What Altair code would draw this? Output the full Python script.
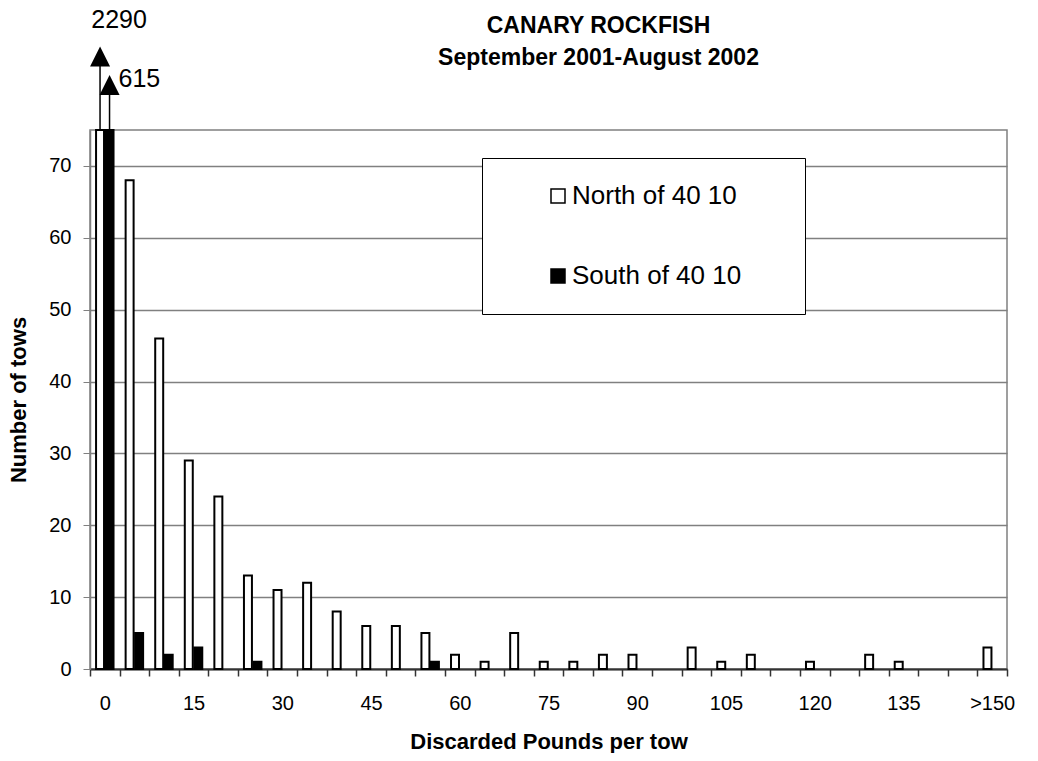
import altair as alt
import pandas as pd

# ---- data ----
bins = [str(v) for v in range(0, 150, 5)] + [">150"]
north = [2290, 68, 46, 29, 24, 13, 11, 12, 8, 6, 6, 5, 2, 1, 5, 1, 1, 2, 2, 0,
         3, 1, 2, 0, 1, 0, 2, 1, 0, 0, 3]
south = [615, 5, 2, 3, 0, 1, 0, 0, 0, 0, 0, 1, 0, 0, 0, 0, 0, 0, 0, 0,
         0, 0, 0, 0, 0, 0, 0, 0, 0, 0, 0]
series_names = ["North of 40 10", "South of 40 10"]
series_fill = ["white", "black"]
y_max = 75
y_ticks = [0, 10, 20, 30, 40, 50, 60, 70]
title_lines = ["CANARY ROCKFISH", "September 2001-August 2002"]
x_title = "Discarded Pounds per tow"
y_title = "Number of tows"

rows = []
for b, n, s in zip(bins, north, south):
    rows.append({"bin": b, "series": series_names[0], "count": n})
    rows.append({"bin": b, "series": series_names[1], "count": s})
df = pd.DataFrame(rows)

FONT = "Liberation Sans"
BLANK = "\u2800"  # blank glyph (not trimmed) used to widen the legend box

x_enc = alt.X(
    "bin:N", sort=bins,
    scale=alt.Scale(domain=bins, paddingInner=0, paddingOuter=0),
    axis=alt.Axis(
        title=x_title, labelAngle=0, tickBand="extent",
        labelExpr="datum.value == '>150' || toNumber(datum.value) % 15 == 0 ? datum.value : ''",
        labelFontSize=20, labelPadding=17, tickSize=7, tickWidth=1.5,
        tickColor="#333333", domainColor="#333333", domainWidth=2,
        titleFontSize=22, titleFontWeight="bold", titlePadding=18, grid=False,
    ),
)
x_off = alt.XOffset(
    "series:N", sort=series_names,
    scale=alt.Scale(domain=series_names, paddingInner=0.16, paddingOuter=0.637),
)

base = alt.Chart(df).transform_filter("datum.count > 0").transform_calculate(
    shown=f"min(datum.count, {y_max})"
)

bars = base.mark_bar(stroke="black", strokeWidth=2).encode(
    x=x_enc,
    xOffset=x_off,
    y=alt.Y(
        "shown:Q",
        scale=alt.Scale(domain=[0, y_max], nice=False, zero=True),
        axis=alt.Axis(
            title=y_title, values=y_ticks, grid=True, gridColor="#808080",
            gridWidth=1.5, labelFontSize=20, labelPadding=12, tickSize=7,
            tickColor="#808080", domainColor="#808080", domainWidth=1.5,
            titleFontSize=22, titleFontWeight="bold", titlePadding=18,
        ),
    ),
    color=alt.Color(
        "series:N",
        scale=alt.Scale(domain=series_names, range=series_fill),
        legend=alt.Legend(
            title=None, orient="none", legendX=392, legendY=28,
            fillColor="white", strokeColor="black", padding=25,
            symbolType="square", symbolSize=196, symbolStrokeColor="black",
            symbolStrokeWidth=1.5, symbolOffset=38, labelOffset=1,
            labelFontSize=26, labelLimit=600, rowPadding=54,
            labelExpr="datum.label + '" + BLANK * 2 + "'",
        ),
    ),
)

over = base.transform_filter(f"datum.count > {y_max}")
over_n = over.transform_filter(alt.datum.series == series_names[0])
over_s = over.transform_filter(alt.datum.series == series_names[1])

arrow_n = over_n.mark_rule(color="black", strokeWidth=1.5).encode(
    x=x_enc, xOffset=x_off, y=alt.value(0), y2=alt.value(-66)
)
head_n = over_n.mark_point(
    shape="M0,-1L1,1L-1,1Z", filled=True, color="black", size=400, opacity=1
).encode(x=x_enc, xOffset=x_off, y=alt.value(-73.5))
label_n = over_n.mark_text(
    fontSize=25, align="center", baseline="alphabetic", dx=19, color="black"
).encode(x=x_enc, xOffset=x_off, y=alt.value(-102), text="count:Q")

arrow_s = over_s.mark_rule(color="black", strokeWidth=1.5).encode(
    x=x_enc, xOffset=x_off, y=alt.value(0), y2=alt.value(-37)
)
head_s = over_s.mark_point(
    shape="M0,-1L1,1L-1,1Z", filled=True, color="black", size=400, opacity=1
).encode(x=x_enc, xOffset=x_off, y=alt.value(-45))
label_s = over_s.mark_text(
    fontSize=25, align="left", baseline="alphabetic", dx=9, color="black"
).encode(x=x_enc, xOffset=x_off, y=alt.value(-43), text="count:Q")

chart = alt.layer(
    bars, arrow_n, head_n, label_n, arrow_s, head_s, label_s
).properties(
    width=917, height=539,
    autosize=alt.AutoSizeParams(type="none"),
    padding={"left": 82, "top": 122, "right": 23, "bottom": 84},
    title=alt.TitleParams(
        text=title_lines, fontSize=23, fontWeight="bold", font=FONT,
        anchor="middle", dx=50, dy=66, lineHeight=32, color="black",
    ),
).configure_view(
    stroke="#808080", strokeWidth=1.5
).configure_axis(
    labelFont=FONT, titleFont=FONT, labelColor="black", titleColor="black"
).configure_legend(
    labelFont=FONT, labelColor="black"
).configure_text(
    font=FONT
)

chart.save("out.html", embed_options={"renderer": "svg", "actions": False})
